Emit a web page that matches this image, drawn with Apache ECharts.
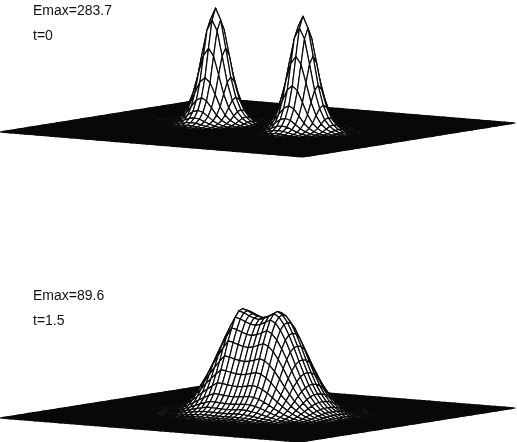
<!DOCTYPE html>
<html><head><meta charset="utf-8">
<style>html,body{margin:0;padding:0;background:#fff}#c{width:517px;height:442px}</style>
<script src="https://cdn.jsdelivr.net/npm/echarts@6/dist/echarts.min.js"></script>
</head><body><div id="c"></div>
<script>
// Height profile, per mesh cell away from a hump's centre (fraction of apex height)
const peakProfile = [1,.9,.66,.41,.24,.135,.075,.04,.02,.01,.004,.001,0];
// Bottom surface: cross-sections through the merged hump, one value per mesh cell
const mergedAlongU = [.002,.004,.008,.014,.024,.04,.065,.1,.15,.22,.31,.42,.54,.67,.79,.9,1,.985,.96,.94,.93,.945,.97,1,.97,.9,.8,.68,.55,.43,.32,.23,.16,.105,.07,.045,.025,.012,.004];
const mergedAlongV = [.002,.004,.008,.015,.025,.04,.065,.1,.15,.22,.32,.44,.57,.71,.83,.93,.985,1,.985,.93,.83,.71,.57,.44,.32,.22,.15,.1,.065,.04,.025,.015,.008,.004,.002];
const labels = [["Emax=283.7","t=0"],["Emax=89.6","t=1.5"]];
const cells = 60;
const topApexHeights = [115,115];       // px
const topCentres = [[21,31],[39,30]];   // [u,v] mesh index
const bottomApexHeight = 103;           // px
const bottomStart = [11,13];            // mesh index where the cross-sections begin

const topView = {L:[0,132],U:[303,25],V:[212,-34]};
const botView = {L:[0,418],U:[300,24],V:[215,-34]};

function topZ(i,j){
  let z=0;
  topCentres.forEach((c,k)=>{
    const a=Math.abs(i-c[0]),b=Math.abs(j-c[1]);
    if(a<peakProfile.length&&b<peakProfile.length) z+=topApexHeights[k]*peakProfile[a]*peakProfile[b];
  });
  return z;
}
function botZ(i,j){
  const a=i-bottomStart[0],b=j-bottomStart[1];
  if(a<0||b<0||a>=mergedAlongU.length||b>=mergedAlongV.length) return 0;
  return bottomApexHeight*mergedAlongU[a]*mergedAlongV[b];
}
function cellData(){
  const d=[];
  for(let j=cells-1;j>=0;j--) for(let i=0;i<cells;i++) d.push([i,j]);
  return d;
}
function surface(view,zf){
  const P=(i,j)=>{
    const u=i/cells,v=j/cells;
    return [view.L[0]+u*view.U[0]+v*view.V[0], view.L[1]+u*view.U[1]+v*view.V[1]-zf(i,j)];
  };
  return {
    type:'custom',coordinateSystem:'cartesian2d',silent:true,progressive:0,animation:false,clip:false,
    encode:{x:0,y:1},
    data:cellData(),
    renderItem(params,api){
      const i=api.value(0),j=api.value(1);
      const pts=[P(i,j),P(i+1,j),P(i+1,j+1),P(i,j+1)].map(p=>api.coord(p));
      // the flat sheet is so dense in the reference that its mesh closes up to solid black
      const flat=Math.max(zf(i,j),zf(i+1,j),zf(i+1,j+1),zf(i,j+1))<0.7;
      return {type:'polygon',shape:{points:pts},style:{fill:flat?'#0a0a0a':'#fff',stroke:'#0a0a0a',lineWidth:1.2,lineJoin:'round'}};
    }
  };
}
const txt=(s,x,y)=>({type:'text',x,y,style:{text:s,fill:'#111',font:'14px "Liberation Sans"',textVerticalAlign:'middle'}});
const chart=echarts.init(document.getElementById('c'),null,{renderer:'canvas'});
chart.setOption({
  animation:false,
  grid:{left:0,right:0,top:0,bottom:0},
  xAxis:{type:'value',min:0,max:517,show:false},
  yAxis:{type:'value',min:0,max:442,inverse:true,show:false},
  series:[surface(topView,topZ),surface(botView,botZ)],
  graphic:[txt(labels[0][0],33,11),txt(labels[0][1],33,36),txt(labels[1][0],33,296),txt(labels[1][1],33,321)]
});
</script></body></html>
